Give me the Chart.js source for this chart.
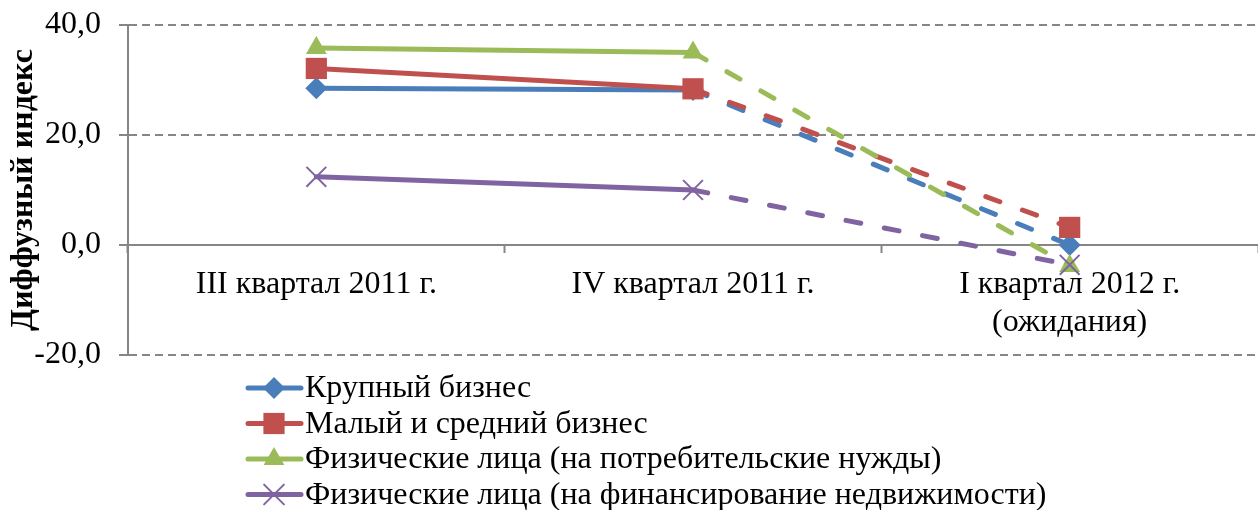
<!DOCTYPE html>
<html>
<head>
<meta charset="utf-8">
<script src="https://cdn.jsdelivr.net/npm/chart.js@4/dist/chart.umd.min.js"></script>
<style>
  html, body { margin: 0; padding: 0; background: #fff; }
  #wrap { width: 1258px; height: 510px; }
</style>
</head>
<body>
<div id="wrap"><canvas id="c" width="1258" height="510"></canvas></div>
<script>
const categories = [
  ['III квартал 2011 г.'],
  ['IV квартал 2011 г.'],
  ['I квартал 2012 г.', '(ожидания)']
];
const seriesNames = [
  'Крупный бизнес',
  'Малый и средний бизнес',
  'Физические лица (на потребительские нужды)',
  'Физические лица (на финансирование недвижимости)'
];
const largeBusiness = [28.5, 28.2, 0.0];
const smallMediumBusiness = [32.1, 28.4, 3.2];
const consumerLoans = [35.8, 35.0, -3.8];
const realEstateLoans = [12.4, 10.0, -3.6];
const yTicks = [-20, 0, 20, 40];
const axisTitle = 'Диффузный индекс';

const FONT = '"Liberation Serif", "Times New Roman", serif';
const FS = 32;
const GRAY = '#868686';
const colors = ['#4A7EBB', '#C0504D', '#9BBB59', '#8064A2'];
const styles = [
  { pointStyle: 'rectRot', radius: 11, borderWidth: 0 },
  { pointStyle: 'rect', radius: 15, borderWidth: 0 },
  { pointStyle: 'triangle', radius: 12, borderWidth: 0 },
  { pointStyle: 'crossRot', radius: 14, borderWidth: 2 }
];
const values = [largeBusiness, smallMediumBusiness, consumerLoans, realEstateLoans];

const datasets = values.map((v, i) => ({
  label: seriesNames[i],
  data: v,
  borderColor: colors[i],
  backgroundColor: colors[i],
  pointBackgroundColor: colors[i],
  pointBorderColor: colors[i],
  pointStyle: styles[i].pointStyle,
  pointRadius: styles[i].radius,
  pointHoverRadius: styles[i].radius,
  pointBorderWidth: styles[i].borderWidth,
  borderWidth: 5,
  borderCapStyle: 'round',
  tension: 0,
  clip: false,
  order: 4 - i,
  segment: {
    borderDash: ctx => ctx.p0DataIndex >= 1 ? [15, 24] : undefined
  }
}));

const legendPlugin = {
  id: 'customLegend',
  afterDraw(chart) {
    const ctx = chart.ctx;
    ctx.save();
    chart.data.datasets.forEach((ds, i) => {
      const y = 388 + i * 35.5;
      ctx.strokeStyle = ds.borderColor;
      ctx.lineWidth = 5;
      ctx.lineCap = 'round';
      ctx.setLineDash([]);
      ctx.beginPath();
      ctx.moveTo(248, y);
      ctx.lineTo(301, y);
      ctx.stroke();
      ctx.fillStyle = ds.borderColor;
      ctx.strokeStyle = ds.borderColor;
      ctx.lineWidth = ds.pointBorderWidth || 0;
      Chart.helpers.drawPoint(ctx, {
        pointStyle: ds.pointStyle,
        radius: ds.pointRadius,
        borderWidth: ds.pointBorderWidth || 0,
        rotation: 0
      }, 274, y);
      ctx.fillStyle = '#000';
      ctx.font = FS + 'px ' + FONT;
      ctx.textBaseline = 'middle';
      ctx.textAlign = 'left';
      ctx.fillText(ds.label, 305, y + 1);
    });
    ctx.restore();
  }
};

new Chart(document.getElementById('c'), {
  type: 'line',
  data: { labels: categories, datasets },
  plugins: [legendPlugin],
  options: {
    responsive: false,
    devicePixelRatio: 1,
    animation: false,
    layout: { autoPadding: false, padding: { top: 25, right: -3, bottom: 155, left: 0 } },
    plugins: { legend: { display: false }, tooltip: { enabled: false } },
    scales: {
      x: {
        position: { y: 0 },
        offset: true,
        afterFit: s => { s.paddingLeft = 0; s.paddingRight = 0; },
        ticks: {
          font: { family: FONT, size: FS },
          color: '#000',
          padding: 13,
          maxRotation: 0,
          autoSkip: false
        },
        grid: {
          drawOnChartArea: false,
          offset: true,
          tickLength: 7,
          tickColor: GRAY,
          tickWidth: 2
        },
        border: { color: GRAY, width: 2 }
      },
      y: {
        min: -20,
        max: 40,
        afterBuildTicks: s => { s.ticks = yTicks.map(v => ({ value: v })); },
        afterFit: s => { s.width = 128; s.paddingTop = 0; s.paddingBottom = 0; },
        ticks: {
          font: { family: FONT, size: FS },
          color: '#000',
          padding: 18,
          callback: v => v.toFixed(1).replace('.', ',')
        },
        grid: {
          color: GRAY,
          lineWidth: 2,
          tickLength: 9,
          tickColor: GRAY,
          tickWidth: 2
        },
        border: { color: GRAY, width: 2, dash: [8, 5] },
        title: {
          display: true,
          text: axisTitle,
          color: '#000',
          font: { family: FONT, size: FS, weight: 'bold' },
          padding: { top: 5, bottom: 0 }
        }
      }
    }
  }
});
</script>
</body>
</html>
